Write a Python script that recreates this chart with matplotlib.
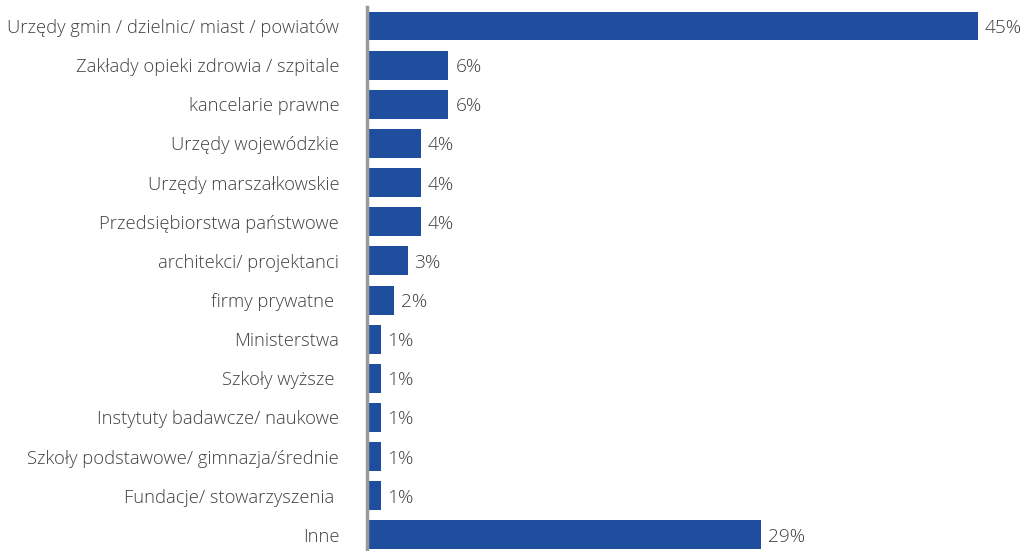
import matplotlib.pyplot as plt
from matplotlib import font_manager

categories = [
    'Urzędy gmin / dzielnic/ miast / powiatów',
    'Zakłady opieki zdrowia / szpitale',
    'kancelarie prawne',
    'Urzędy wojewódzkie',
    'Urzędy marszałkowskie',
    'Przedsiębiorstwa państwowe',
    'architekci/ projektanci',
    'firmy prywatne ',
    'Ministerstwa',
    'Szkoły wyższe ',
    'Instytuty badawcze/ naukowe',
    'Szkoły podstawowe/ gimnazja/średnie',
    'Fundacje/ stowarzyszenia ',
    'Inne',
]
values = [45, 6, 6, 4, 4, 4, 3, 2, 1, 1, 1, 1, 1, 29]

bar_color = '#1f4e9f'
text_color = '#404040'

names = {f.name for f in font_manager.fontManager.ttflist}
family = 'Open Sans' if 'Open Sans' in names else 'DejaVu Sans'
plt.rcParams['font.family'] = family

fig = plt.figure(figsize=(10.23, 5.51), dpi=100)
ax = fig.add_axes([367 / 1023, 0, 656 / 1023, 544 / 551])

pos = list(range(len(categories)))
ax.barh(pos, values, height=0.74, color=bar_color)
ax.set_xlim(0, 48.3)
ax.set_ylim(13.41, -0.485)

for y, v in zip(pos, values):
    ax.text(v + 0.5, y, f'{v}%', va='center_baseline', ha='left',
            fontsize=13.8, color=text_color, fontweight='light')

ax.set_yticks(pos)
ax.set_yticklabels(categories, fontsize=13.2, color=text_color,
                   fontweight='light', va='center_baseline')
ax.tick_params(axis='y', length=0, pad=20)
ax.set_xticks([])

for s in ['top', 'right', 'bottom']:
    ax.spines[s].set_visible(False)
ax.spines['left'].set_color('#999999')
ax.spines['left'].set_linewidth(2.5)

fig.savefig('out.png', dpi=100)
